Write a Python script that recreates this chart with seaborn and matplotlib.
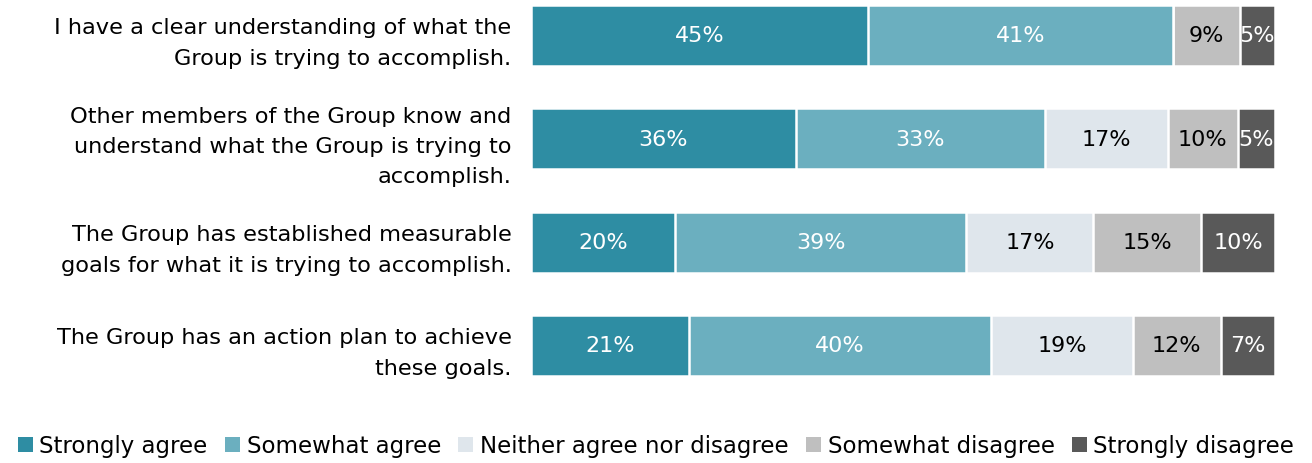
import matplotlib
matplotlib.use("Agg")
import matplotlib.pyplot as plt
import seaborn as sns
import numpy as np
import pandas as pd
from matplotlib.patches import Patch

categories = [
    "I have a clear understanding of what the\nGroup is trying to accomplish.",
    "Other members of the Group know and\nunderstand what the Group is trying to\naccomplish.",
    "The Group has established measurable\ngoals for what it is trying to accomplish.",
    "The Group has an action plan to achieve\nthese goals.",
]
series_names = ["Strongly agree", "Somewhat agree", "Neither agree nor disagree",
                "Somewhat disagree", "Strongly disagree"]
strongly_agree = [45.3, 35.6, 19.4, 21.2]
somewhat_agree = [41.0, 33.5, 39.1, 40.6]
neither = [0.0, 16.5, 17.1, 19.1]
somewhat_disagree = [9.0, 9.4, 14.5, 11.8]
strongly_disagree = [4.7, 5.0, 9.9, 7.3]
labels = [
    ["45%", "36%", "20%", "21%"],
    ["41%", "33%", "39%", "40%"],
    ["", "17%", "17%", "19%"],
    ["9%", "10%", "15%", "12%"],
    ["5%", "5%", "10%", "7%"],
]
colors = ["#2E8DA3", "#6BAFBF", "#DFE6EC", "#BFBFBF", "#595959"]
text_colors = ["white", "white", "black", "black", "white"]

series = [strongly_agree, somewhat_agree, neither, somewhat_disagree, strongly_disagree]

sns.set_theme(style="white")
plt.rcParams["font.family"] = ["DejaVu Sans"]

fig = plt.figure(figsize=(13.12, 4.64), dpi=100)
ax = fig.add_axes([531 / 1312, 1 - 400 / 464, (1275 - 531) / 1312, 400 / 464])

cum = np.cumsum(np.array(series), axis=0)
for i in range(len(series) - 1, -1, -1):
    df = pd.DataFrame({"cat": categories, "val": cum[i]})
    sns.barplot(data=df, x="val", y="cat", orient="y", color=colors[i],
                saturation=1, width=0.59, edgecolor="white", linewidth=1.8, ax=ax)

for i in range(len(series)):
    left = cum[i] - np.array(series[i])
    for j in range(len(categories)):
        if series[i][j] <= 0:
            continue
        ax.text(left[j] + series[i][j] / 2, j, labels[i][j], ha="center", va="center",
                color=text_colors[i], fontsize=16)

ax.set_xlim(0, 100)
ax.set_ylim(3.518, -0.353)
ax.set_xlabel("")
ax.set_ylabel("")
ax.set_xticks([])
ax.tick_params(axis="y", length=0, pad=14, labelsize=16.2)
for lab in ax.get_yticklabels():
    lab.set_horizontalalignment("right")
    lab.set_multialignment("right")
    lab.set_linespacing(1.65)
    lab.set_color("black")
sns.despine(ax=ax, left=True, bottom=True)

handles = [Patch(facecolor=c, edgecolor="none") for c in colors]
fig.legend(handles, series_names, loc="center", bbox_to_anchor=(0.5, 1 - 447 / 464),
           ncol=5, frameon=False, fontsize=16.5, handlelength=0.65, handleheight=0.65,
           handletextpad=0.3, columnspacing=0.75, labelcolor="black",
           borderaxespad=0, borderpad=0)

fig.savefig("out.png", dpi=100)
